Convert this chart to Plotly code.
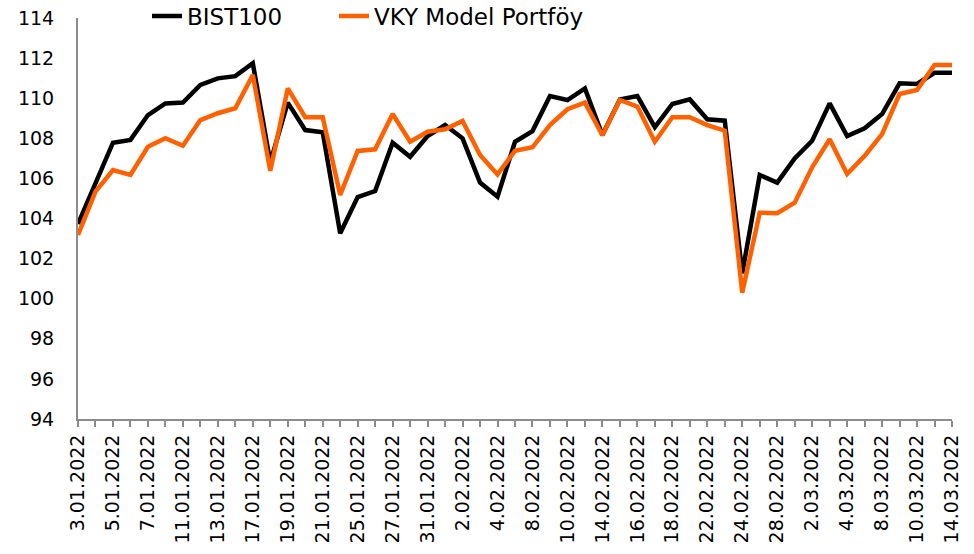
import plotly.graph_objects as go

dates = [
    "3.01.2022", "4.01.2022", "5.01.2022", "6.01.2022", "7.01.2022", "10.01.2022",
    "11.01.2022", "12.01.2022", "13.01.2022", "14.01.2022", "17.01.2022", "18.01.2022",
    "19.01.2022", "20.01.2022", "21.01.2022", "24.01.2022", "25.01.2022", "26.01.2022",
    "27.01.2022", "28.01.2022", "31.01.2022", "1.02.2022", "2.02.2022", "3.02.2022",
    "4.02.2022", "7.02.2022", "8.02.2022", "9.02.2022", "10.02.2022", "11.02.2022",
    "14.02.2022", "15.02.2022", "16.02.2022", "17.02.2022", "18.02.2022", "21.02.2022",
    "22.02.2022", "23.02.2022", "24.02.2022", "25.02.2022", "28.02.2022", "1.03.2022",
    "2.03.2022", "3.03.2022", "4.03.2022", "7.03.2022", "8.03.2022", "9.03.2022",
    "10.03.2022", "11.03.2022", "14.03.2022",
]

bist100 = [
    103.73, 105.77, 107.78, 107.92, 109.16, 109.74, 109.78, 110.66, 110.99, 111.10,
    111.74, 106.80, 109.78, 108.41, 108.30, 103.26, 105.07, 105.37, 107.78, 107.08,
    108.11, 108.66, 108.00, 105.79, 105.09, 107.83, 108.36, 110.11, 109.91, 110.49,
    108.16, 109.94, 110.11, 108.56, 109.71, 109.94, 108.95, 108.88, 101.27, 106.17,
    105.79, 107.00, 107.88, 109.74, 108.11, 108.50, 109.21, 110.74, 110.71, 111.27,
    111.27,
]

vky = [
    103.18, 105.34, 106.42, 106.17, 107.58, 108.00, 107.63, 108.91, 109.25, 109.50,
    111.16, 106.38, 110.49, 109.05, 109.05, 105.17, 107.37, 107.45, 109.21, 107.83,
    108.33, 108.45, 108.86, 107.17, 106.20, 107.38, 107.55, 108.66, 109.45, 109.78,
    108.15, 109.91, 109.58, 107.83, 109.05, 109.05, 108.66, 108.38, 100.30, 104.29,
    104.26, 104.79, 106.55, 107.95, 106.22, 107.12, 108.21, 110.21, 110.41, 111.66,
    111.66,
]

tick_text = [d if i % 2 == 0 else "" for i, d in enumerate(dates)]
y_ticks = list(range(94, 115, 2))

FONT = "DejaVu Sans"
AXIS_GRAY = "#8C8C8C"

W, H = 974, 554
ML, MR, MB = 78, 22, 135
PLOT_TOP = 18
PH = H - MB          # paper height (margin top = 0)
PW = W - ML - MR


def px_x(px):
    return (px - ML) / PW


def px_y(py):
    return 1 - py / PH


fig = go.Figure()
fig.add_trace(go.Scatter(x=dates, y=bist100, mode="lines", name="BIST100",
                         line=dict(color="#000000", width=4.5), legend="legend"))
fig.add_trace(go.Scatter(x=dates, y=vky, mode="lines", name="VKY Model Portföy",
                         line=dict(color="#FF6000", width=4.5), legend="legend2"))

leg_common = dict(orientation="h", xanchor="left", yanchor="middle",
                  bgcolor="rgba(0,0,0,0)", font=dict(family=FONT, size=23, color="#000000"),
                  itemwidth=30)

fig.update_layout(
    width=W, height=H,
    margin=dict(l=ML, r=MR, t=0, b=MB, autoexpand=False),
    paper_bgcolor="white", plot_bgcolor="white",
    font=dict(family=FONT, size=19, color="#000000"),
    showlegend=True,
    legend=dict(x=px_x(147), y=px_y(16), **leg_common),
    legend2=dict(x=px_x(334), y=px_y(16), **leg_common),
    xaxis=dict(type="category", range=[0, len(dates) - 1], automargin=False,
               tickmode="array", tickvals=dates, ticktext=tick_text,
               tickangle=-90, ticks="outside", ticklen=6, tickcolor=AXIS_GRAY,
               tickwidth=1.5,
               showline=True, linecolor=AXIS_GRAY, linewidth=2,
               showgrid=False, zeroline=False),
    yaxis=dict(range=[94, 114], tickmode="array", tickvals=y_ticks, automargin=False,
               domain=[0, 1 - PLOT_TOP / PH], ticklabelstandoff=18,
               showline=True, linecolor=AXIS_GRAY, linewidth=2,
               ticks="", showgrid=False, zeroline=False),
)

fig.write_html("out.html",
               config={"displayModeBar": False},
               post_script="document.body.style.margin='0px';document.body.style.padding='0px';")
